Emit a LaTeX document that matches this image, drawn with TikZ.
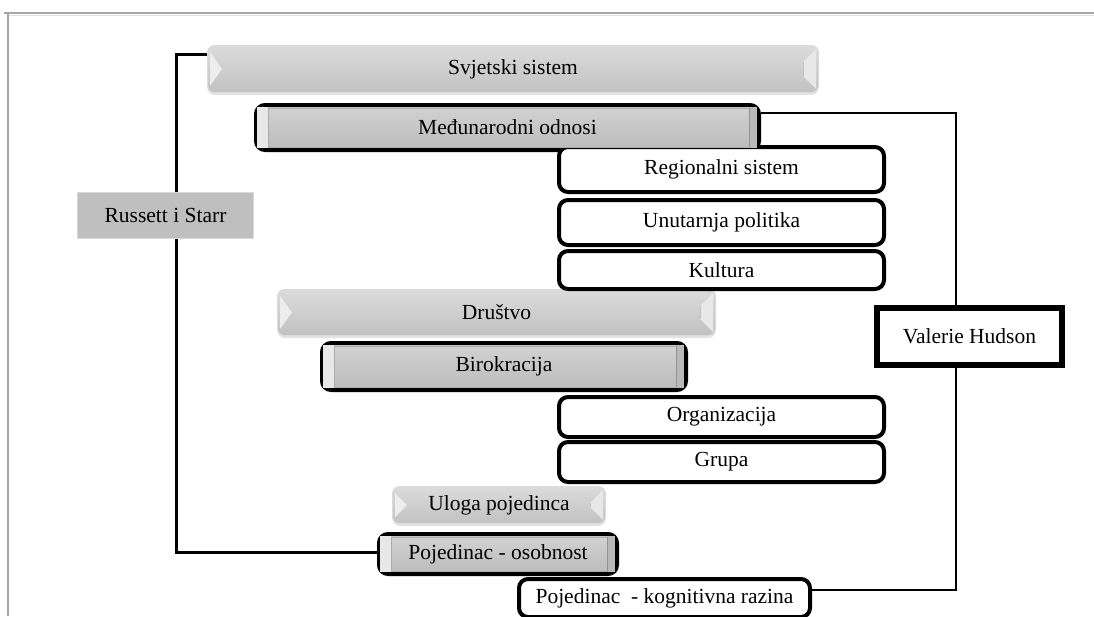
\documentclass[tikz,border=0pt]{standalone}
\usepackage{fontspec}
\setmainfont{Liberation Serif}
\usetikzlibrary{calc,shadows}
\begin{document}
\begin{tikzpicture}[x=1pt,y=-1pt,
  every node/.style={font=\fontsize{21.5}{25}\selectfont, inner sep=0pt, anchor=north west, align=center},
  lightbev/.style={rounded corners=7pt, draw=gray!28, line width=1pt, top color=gray!28, bottom color=gray!48,
    drop shadow={opacity=0.22,shadow xshift=0pt,shadow yshift=-2.5pt}},
  darkbev/.style={rounded corners=9pt, draw=black, line width=4pt, fill=gray!25},
  whitebox/.style={rounded corners=9pt, draw=black, line width=4pt, fill=white},
  refbox/.style={fill=gray!50, draw=gray!30, line width=1pt},
  hudbox/.style={fill=white, draw=black, line width=6pt},
  brkL/.style={line width=3pt, black},
  brkR/.style={line width=1.5pt, black},
  framecol/.style={line width=2pt, draw=gray!70},
]
\useasboundingbox (0,0) rectangle (1094,616);
% page frame
\draw[framecol] (4,13) -- (1094,13);
\draw[framecol] (8,13) -- (8,616);
\draw[line width=1pt, gray!25] (9,15.5) -- (1094,15.5);

% light bevel boxes
\node[lightbev, minimum width=611, minimum height=47] (sv) at (207,45) {Svjetski sistem};
\node[lightbev, minimum width=438, minimum height=46] (dr) at (277,289) {Društvo};
\node[lightbev, minimum width=213, minimum height=37] (ul) at (392,486) {Uloga pojedinca};

% dark bordered bevel boxes
\node[darkbev, minimum width=503, minimum height=45] (mo) at (254,103) {};
\node[darkbev, minimum width=364, minimum height=47] (bi) at (320,341) {};
\node[darkbev, minimum width=238, minimum height=40] (po) at (377,532) {};

% white boxes
\node[whitebox, minimum width=325, minimum height=45] (rs) at (557,145) {Regionalni sistem};
\node[whitebox, minimum width=325, minimum height=45] (up) at (557,198) {Unutarnja politika};
\node[whitebox, minimum width=325, minimum height=38] (ku) at (557,249) {Kultura};
\node[whitebox, minimum width=325, minimum height=40] (og) at (557,395) {Organizacija};
\node[whitebox, minimum width=325, minimum height=40] (gr) at (557,440) {Grupa};
\node[whitebox, minimum width=291, minimum height=38] (pk) at (517,577) {Pojedinac~~- kognitivna razina};

% author boxes
\node[refbox, minimum width=176, minimum height=46] (rsr) at (77,192) {Russett i Starr};
\node[hudbox, minimum width=185, minimum height=57] (vh) at (874,305) {Valerie Hudson};

% bevel details on light boxes
\foreach \n in {sv,dr,ul}{
  \fill[gray!14] ($(\n.north west)+(3pt,-7pt)$) -- ($(\n.west)+(15pt,0pt)$) -- ($(\n.south west)+(3pt,7pt)$) -- cycle;
  \fill[gray!18] ($(\n.north east)+(-3pt,-4pt)$) -- ($(\n.north east)+(-16pt,-17pt)$) -- ($(\n.south east)+(-16pt,17pt)$) -- ($(\n.south east)+(-3pt,4pt)$) -- cycle;
  \draw[gray!50, line width=0.6pt] ($(\n.north east)+(-16pt,-17pt)$) -- ($(\n.south east)+(-16pt,17pt)$);
}
% bevel details on dark boxes
\foreach \n in {mo,bi,po}{
  \fill[gray!18] ($(\n.north west)+(3pt,-4pt)$) rectangle ($(\n.south west)+(14pt,4pt)$);
  \fill[gray!55] ($(\n.north east)+(-12pt,-4pt)$) rectangle ($(\n.south east)+(-4pt,4pt)$);
  \shade[top color=gray!36, bottom color=gray!52, draw=gray!65, line width=0.6pt]
     ($(\n.north west)+(14pt,-5pt)$) rectangle ($(\n.south east)+(-12pt,5pt)$);
  \draw[gray!85, line width=1pt] ($(\n.north east)+(-12pt,-5pt)$) -- ($(\n.south east)+(-12pt,5pt)$);
}
\node[anchor=center] at (mo.center) {Međunarodni odnosi};
\node[anchor=center] at (bi.center) {Birokracija};
\node[anchor=center] at (po.center) {Pojedinac - osobnost};

% left bracket (Russett i Starr)
\coordinate (lt) at (176,54);
\coordinate (lb) at (176,552);
\draw[brkL] (sv.west |- lt) -- (lt) -- (lt |- rsr.north);
\draw[brkL] (lt |- rsr.south) -- (lb) -- (po.west |- lb);

% right bracket (Valerie Hudson)
\coordinate (rt) at (956,113);
\coordinate (rb) at (956,590);
\draw[brkR] (mo.east |- rt) -- (rt) -- (rt |- vh.north);
\draw[brkR] (rt |- vh.south) -- (rb) -- (pk.east |- rb);
\end{tikzpicture}
\end{document}
